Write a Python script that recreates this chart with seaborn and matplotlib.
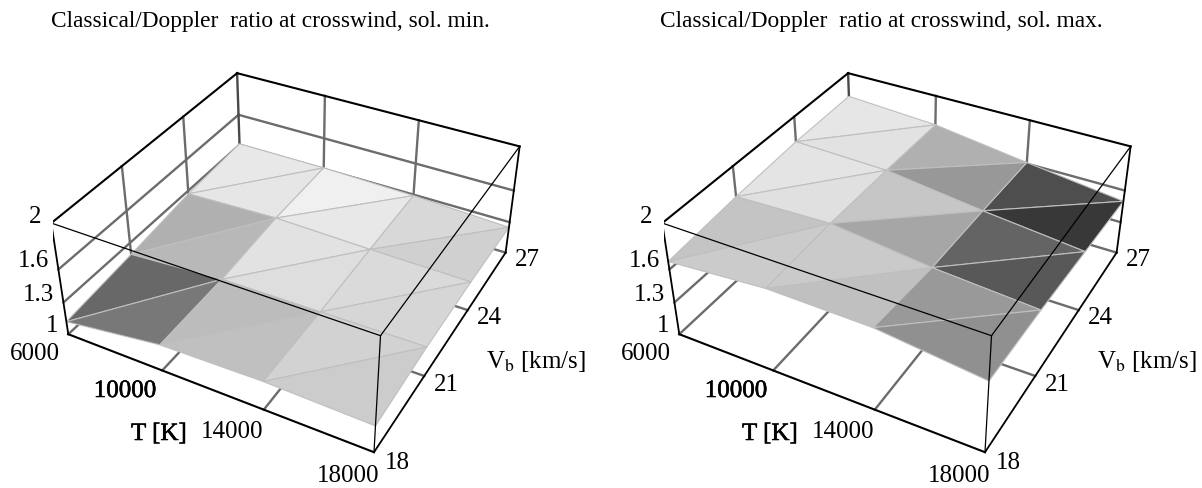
import numpy as np
import matplotlib
matplotlib.use('Agg')
import matplotlib.pyplot as plt
import matplotlib.patheffects as pe
from mpl_toolkits.mplot3d.art3d import Poly3DCollection
import seaborn as sns

# ---------- data ----------
temperature = [6000, 10000, 14000, 18000]
bulk_speed = [18, 21, 24, 27]
ratio_ticks = [1, 1.3, 1.6, 2]
title_min = "Classical/Doppler  ratio at crosswind, sol. min."
title_max = "Classical/Doppler  ratio at crosswind, sol. max."
label_t = "T [K]"
label_v = "V$_{\\mathrm{b}}$ [km/s]"

# ratio: rows = bulk_speed, columns = temperature
ratio_min = [[1.12, 1.24, 1.26, 1.24],
             [1.19, 1.25, 1.26, 1.27],
             [1.27, 1.30, 1.28, 1.27],
             [1.31, 1.31, 1.29, 1.25]]
ratio_max = [[1.67, 1.74, 1.73, 1.63],
             [1.73, 1.76, 1.66, 1.60],
             [1.77, 1.75, 1.64, 1.55],
             [1.78, 1.73, 1.61, 1.50]]

# facet shading (grey level): rows = bulk_speed cell, columns = temperature cell
upper_min = [[0x68, 0xbc, 0xd2], [0xb0, 0xe2, 0xda], [0xe8, 0xf0, 0xd8]]
lower_min = [[0x78, 0xc0, 0xcc], [0xb8, 0xde, 0xd6], [0xe6, 0xe8, 0xd0]]
upper_max = [[0xc4, 0xca, 0x99], [0xe4, 0xc6, 0x64], [0xe6, 0xb0, 0x4e]]
lower_max = [[0xcb, 0xc0, 0x90], [0xe0, 0xa6, 0x58], [0xe2, 0x98, 0x38]]

# ---------- style / layout ----------
W, H = 1202, 489
SCALE, X0, Y0 = 2570.095, 297.012, 240.038
SHIFT = 611
GRID = '#6c6c6c'
sns.set_theme(style='white')
plt.rcParams['font.family'] = ['Liberation Serif', 'DejaVu Serif']
plt.rcParams['mathtext.fontset'] = 'stix'
FS = 18
TITLE_FS = 16.8

fig = plt.figure(figsize=(W / 100, H / 100), dpi=100, facecolor='white')


def px(x, y, s, bold=False, size=FS, ha='center', va='center'):
    t = fig.text(x / W, 1 - y / H, s, fontsize=size, ha=ha, va=va, color='#000000')
    if bold:
        t.set_path_effects([pe.withStroke(linewidth=0.4, foreground='#000000')])
    return t


def panel(dx, ratio, upper, lower, title, title_x):
    ax = fig.add_axes([0.1, 0.1, 0.3, 0.3 * W / H], projection='3d')
    ax.computed_zorder = False
    ax.set_axis_off()
    ax.patch.set_alpha(0)
    ax.view_init(elev=35.8804, azim=-61.6462)
    ax.set_proj_type('persp', focal_length=0.4478)
    ax.set_box_aspect((1, 1.0009, 0.4024))

    T, V, Zt = temperature, bulk_speed, ratio_ticks
    t0, t1, v0, v1, z0, z1 = T[0], T[-1], V[0], V[-1], Zt[0], Zt[-1]

    def line(xs, ys, zs, color, lw, zo):
        ax.plot(xs, ys, zs, color=color, lw=lw, zorder=zo, solid_capstyle='projecting')

    # back walls and floor
    for z in Zt[:-1]:
        line([t0, t0], [v0, v1], [z, z], GRID, 1.7, 1)
        line([t0, t1], [v1, v1], [z, z], GRID, 1.7, 1)
    for v in V[1:-1]:
        line([t0, t0], [v, v], [z0, z1], GRID, 1.7, 1)
        line([t0, t1], [v, v], [z0, z0], GRID, 1.7, 1)
    for t in T[1:-1]:
        line([t, t], [v1, v1], [z0, z1], GRID, 1.7, 1)
        line([t, t], [v0, v1], [z0, z0], GRID, 1.7, 1)
    line([t0, t0], [v1, v1], [z0, z1], '#484848', 1.7, 1)

    # surface, two flat facets per grid cell
    R = np.asarray(ratio)
    polys, faces = [], []
    for j in range(len(V) - 1):
        for i in range(len(T) - 1):
            a = (T[i], V[j], R[j, i])
            b = (T[i + 1], V[j], R[j, i + 1])
            c = (T[i + 1], V[j + 1], R[j + 1, i + 1])
            d = (T[i], V[j + 1], R[j + 1, i])
            polys += [[a, c, d], [a, b, c]]
            faces += [str(upper[j][i] / 255), str(lower[j][i] / 255)]
    surf = Poly3DCollection(polys, facecolors=faces, edgecolors='#bfbfbf',
                            linewidths=0.8, zorder=2)
    ax.add_collection3d(surf, autolim=False)

    # box
    for xs, ys, zs, lw in [
        ([t0, t0], [v0, v1], [z1, z1], 1.5),
        ([t0, t1], [v1, v1], [z1, z1], 1.5),
        ([t0, t1], [v0, v0], [z0, z0], 1.5),
        ([t1, t1], [v0, v1], [z0, z0], 1.3),
        ([t0, t0], [v0, v0], [z0, z1], 1.3),
        ([t1, t1], [v1, v1], [z0, z1], 1.3),
        ([t0, t1], [v0, v0], [z1, z1], 0.9),
        ([t1, t1], [v0, v1], [z1, z1], 0.9),
        ([t1, t1], [v0, v0], [z0, z1], 0.9),
    ]:
        line(xs, ys, zs, '#000000', lw, 3)

    ax.set_xlim(t0, t1)
    ax.set_ylim(v0, v1)
    ax.set_zlim(z0, z1)

    # place the square axes so that the box lands where the reference has it
    xl, yl = ax.viewLim.intervalx, ax.viewLim.intervaly
    left = X0 + dx + SCALE * xl[0]
    top = Y0 - SCALE * yl[1]
    side = SCALE * (xl[1] - xl[0])
    ax.set_position([left / W, 1 - (top + side) / H, side / W, side / H])

    # labels
    px(title_x, 27, title, size=TITLE_FS, ha='left', va='baseline')
    for lab, (x, y) in zip(Zt, [(52, 326), (38, 295), (33, 261), (35, 217)]):
        px(x + dx, y, f'{lab:g}')
    for lab, (x, y), b in zip(T, [(35, 354), (125, 392), (232, 432), (348, 476)],
                              [False, True, False, False]):
        px(x + dx, y, str(lab), bold=b)
    for lab, (x, y) in zip(V, [(397, 463), (446, 385), (489, 318), (527, 260)]):
        px(x + dx, y, str(lab))
    px(159 + dx, 435, label_t, bold=True)
    px(536 + dx, 362, label_v)


panel(0, ratio_min, upper_min, lower_min, title_min, 51)
panel(SHIFT, ratio_max, upper_max, lower_max, title_max, 660)
fig.savefig('out.png', dpi=100, facecolor='white')
